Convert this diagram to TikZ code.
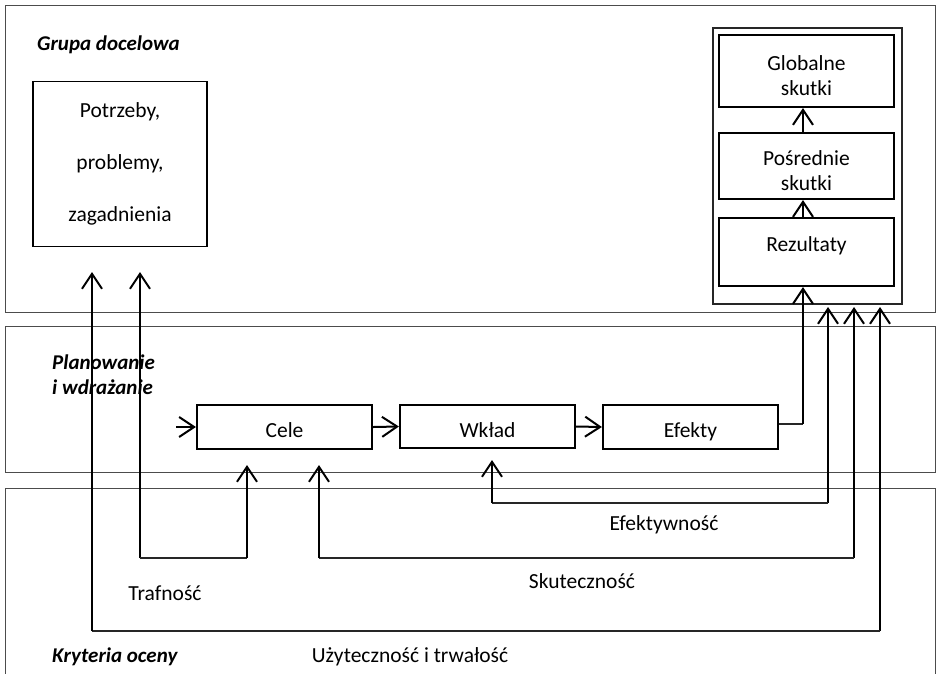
\documentclass[tikz,border=0pt]{standalone}
\usepackage{fontspec}
\setmainfont{Carlito}
\usetikzlibrary{arrows.meta}
\begin{document}
\begin{tikzpicture}[x=1pt,y=-1pt,
  frame/.style={draw=black!70, line width=0.9pt, inner sep=0pt},
  box/.style={draw=black, line width=2.2pt, inner sep=0pt, minimum width=175pt, align=center,
    font=\fontsize{21.5}{25}\selectfont},
  chain/.style={box, text height=21pt, text depth=0pt},
  lbl/.style={inner sep=0pt, font=\fontsize{21.5}{25}\selectfont},
  hdr/.style={inner sep=0pt, font=\fontsize{21}{25}\selectfont\bfseries\itshape, align=left},
  arr/.style={line width=2pt, -{Straight Barb[length=15pt,width=20pt]}},
  thinl/.style={line width=1.1pt, draw=black!85}
]
\useasboundingbox (0,0) rectangle (937,673);
% region frames
\node[frame, minimum width=930pt, minimum height=307pt] (topframe) at (470,158.5) {};
\node[frame, minimum width=930pt, minimum height=146pt] (midframe) at (470,399) {};
\draw[black!70, line width=0.9pt] (5,680) -- (5,488) -- (935,488) -- (935,680);
% headers
\node[hdr, anchor=west] (grupa) at (37,45) {Grupa docelowa};
\node[hdr, anchor=west] (plan) at (52,375) {Planowanie\\i wdrażanie};
\node[hdr, anchor=west] (kryt) at (52,657) {Kryteria oceny};
% needs box
\node[draw=black, line width=1.1pt, minimum width=174pt, minimum height=165pt, inner sep=0pt,
  align=center, font=\fontsize{21.5}{52}\selectfont] (potrzeby) at (120,164) {Potrzeby,\\problemy,\\zagadnienia};
% right column
\node[draw=black!85, line width=1.1pt, minimum width=189pt, minimum height=276pt, inner sep=0pt] (inner) at (807.5,166) {};
\node[box, minimum height=72pt] (glob) at (806.5,71) {};
\node[lbl, align=center] (globt) at (806.5,76) {Globalne\\skutki};
\node[box, minimum height=66pt] (pos) at (806.5,166) {};
\node[lbl, align=center] (post) at (806.5,171) {Pośrednie\\skutki};
\node[box, minimum height=68pt] (rez) at (806.5,252) {};
\node[lbl] (rezt) at (806.5,246) {Rezultaty};
% planning chain
\node[chain, minimum height=44pt] (cele) at (284.5,427) {Cele};
\node[chain, minimum height=43pt] (wklad) at (487.5,426.5) {Wkład};
\node[chain, minimum height=44pt] (efekty) at (690.5,427) {Efekty};
% coordinates
\coordinate (in0) at (176,427);
\coordinate (e1) at (803,424);
\coordinate (p1) at (92,272);  \coordinate (p2) at (140,272);
\coordinate (t1) at (140,558); \coordinate (t2) at (247,558); \coordinate (t3) at (247,465);
\coordinate (s1) at (854,307); \coordinate (s2) at (854,558); \coordinate (s3) at (319,558); \coordinate (s4) at (319,465);
\coordinate (f1) at (828,307); \coordinate (f2) at (828,503); \coordinate (f3) at (492,503); \coordinate (f4) at (492,460);
\coordinate (u1) at (880,307); \coordinate (u2) at (880,631); \coordinate (u3) at (92,631);
% chain arrows
\draw[arr] (in0) -- (cele.west);
\draw[arr] (cele.east) -- (wklad.west);
\draw[arr] (wklad.east) -- (efekty.west);
\draw[thinl] (efekty.east |- e1) -- (e1);
\draw[arr] (e1) -- (e1 |- rez.south);
\draw[arr] ([xshift=-3.5pt]rez.north) -- ([xshift=-3.5pt]pos.south);
\draw[arr] ([xshift=-3.5pt]pos.north) -- ([xshift=-3.5pt]glob.south);
% Trafnosc
\draw[arr] (t1) -- (p2);
\draw[thinl] (t1) -- (t2);
\draw[arr] (t2) -- (t3);
% Skutecznosc
\draw[arr] (s2) -- (s1);
\draw[thinl] (s2) -- (s3);
\draw[arr] (s3) -- (s4);
% Efektywnosc
\draw[arr] (f2) -- (f1);
\draw[thinl] (f2) -- (f3);
\draw[arr] (f3) -- (f4);
% Uzytecznosc
\draw[arr] (u2) -- (u1);
\draw[thinl] (u2) -- (u3);
\draw[arr] (u3) -- (p1);
% criteria labels
\node[lbl] (traf) at (165,593) {Trafność};
\node[lbl] (efek) at (664,525) {Efektywność};
\node[lbl] (skut) at (582,581) {Skuteczność};
\node[lbl] (uzyt) at (410,657) {Użyteczność i trwałość};
\end{tikzpicture}
\end{document}
